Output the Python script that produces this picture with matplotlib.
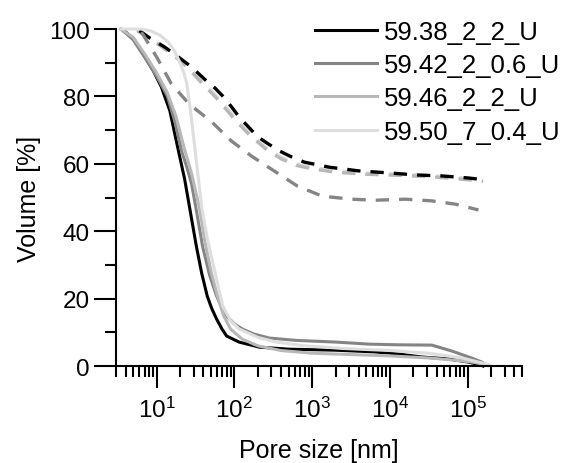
import numpy as np
import matplotlib
matplotlib.use("Agg")
import matplotlib.pyplot as plt
from matplotlib.ticker import LogLocator, NullFormatter, MultipleLocator

plt.rcParams["font.family"] = ["Liberation Sans", "DejaVu Sans"]
plt.rcParams["mathtext.fontset"] = "custom"
plt.rcParams["mathtext.rm"] = "Liberation Sans"
plt.rcParams["mathtext.it"] = "Liberation Sans:italic"

# ===============================
# Data (pore size in nm, volume in %)
# ===============================
samples = ["59.38_2_2_U", "59.42_2_0.6_U", "59.46_2_2_U", "59.50_7_0.4_U"]
colors = ["#000000", "#858585", "#b8b8b8", "#dedede"]

# intrusion curves (solid)
s1_x = [3.47, 3.89, 5.01, 7.08, 9.12, 11.5, 14.8, 18.6, 22.9, 27.5, 32.4, 38.0, 44.7,
        51.3, 58.9, 69.2, 79.4, 115, 209, 501, 2000, 6310, 12600, 25100, 56200,
        100000, 141000, 158000]
s1_y = [100, 99.4, 97, 91.7, 87.5, 82.8, 75.7, 65, 55.5, 45, 35.6, 27.5, 20.8,
        17, 14, 11, 8.9, 7.1, 5.6, 5.0, 4.7, 4.2, 3.6, 2.7, 2.1, 1.2, 0.4, 0]

s2_x = [3.47, 5.01, 7.08, 10.0, 13.8, 17.4, 20.9, 24.5, 28.2, 33.1, 38.9, 47.9,
        58.9, 69.2, 79.4, 100, 126, 178, 282, 631, 2040, 5370, 12600, 34700,
        61700, 112000, 151000, 178000]
s2_y = [100, 96.8, 91.5, 86, 80, 72, 63.8, 59, 54, 45, 35.6, 27, 20.8, 17.2,
        14.8, 12.5, 11, 9.5, 8.3, 7.6, 7.1, 6.5, 6.3, 6.2, 4.5, 2.4, 1.2, 0.3]

s3_x = [3.47, 5.01, 7.08, 10.0, 13.8, 17.8, 22.4, 28.2, 35.5, 41.7, 50.1, 60.3,
        72.4, 89.1, 126, 200, 398, 1000, 3160, 10000, 31600, 79400, 126000, 178000]
s3_y = [100, 97.5, 92.5, 87, 81, 74, 65, 57, 47, 37, 28, 21, 15, 11, 8, 6,
        4.6, 3.8, 3.4, 3.0, 2.4, 1.6, 1.0, 0.3]

s4_x = [3.47, 6.5, 8.5, 11.0, 14.0, 17.0, 20.0, 22.4, 24.5, 28.2, 33.9, 38.0,
        44.7, 52.5, 70.8, 89.1, 115, 200, 347, 794, 2510, 10000, 31600, 79400,
        126000, 186000]
s4_y = [100, 100, 99.4, 98.2, 96.2, 93.5, 90, 87, 83.7, 73, 57, 47, 38, 30.9,
        17.8, 13.5, 11, 8.5, 7.1, 6, 5.2, 4.6, 3.8, 2.5, 1.4, 0.4]

# extrusion curves (dashed)
d1_x = [6.03, 7.94, 12.6, 17.8, 25.1, 33.1, 43.7, 56.2, 70.8, 91.2, 115, 151, 195,
        269, 380, 550, 794, 1660, 3980, 9770, 21400, 46800, 102000, 174000]
d1_y = [99.5, 97.5, 94.7, 92.2, 89.6, 87.2, 84.6, 82.5, 80.1, 77, 73.9, 71, 68.2,
        66, 63.8, 62, 60.5, 59, 57.9, 57.3, 56.7, 56.4, 55.8, 55.2]

d2_x = [6.31, 6.61, 10.0, 15.5, 26.3, 51.3, 91.2, 166, 324, 646, 1350, 3240,
        6610, 15800, 34700, 70800, 138000]
d2_y = [99, 98.5, 91.7, 83.7, 77.7, 72.4, 66.8, 62.3, 57.9, 53.4, 50.4, 49.5,
        49.2, 49.5, 49, 48, 46.3]

d3_x = [5.62, 7.59, 11.2, 17.0, 25.1, 38.0, 56.2, 79.4, 112, 158, 251, 398, 631,
        1000, 2000, 5010, 12600, 31600, 79400, 158000]
d3_y = [99.5, 97.6, 95, 92, 88.5, 84, 80, 76, 72, 68.5, 64.5, 61.5, 59.5, 58.5,
        57.5, 56.9, 56.6, 56.2, 55.5, 54.8]

d4_x = d3_x
d4_y = [99.6, 97.8, 95.3, 92.4, 89, 84.6, 80.6, 76.6, 72.6, 69, 65, 62, 60,
        59, 58, 57.3, 57, 56.6, 55.9, 55.2]

solid = [(s1_x, s1_y), (s2_x, s2_y), (s3_x, s3_y), (s4_x, s4_y)]
dashed = [(d1_x, d1_y), (d2_x, d2_y), (d3_x, d3_y), (d4_x, d4_y)]

# ===============================
# Plot
# ===============================
fig = plt.figure(figsize=(5.75, 4.64), dpi=100)
ax = fig.add_axes([0.2017, 0.209, 0.7061, 0.7263])

# dashed first, solid on top in legend order
for i in [3, 2, 0, 1]:
    x, y = dashed[i]
    ax.plot(x, y, color=colors[i], lw=2.4, dashes=(4, 3), clip_on=False)
for i, (x, y) in enumerate(solid):
    ax.plot(x, y, color=colors[i], lw=2.2, label=samples[i], clip_on=False)

ax.set_xscale("log")
ax.set_xlim(3, 5e5)
ax.set_ylim(0, 100)

ax.xaxis.set_major_locator(LogLocator(base=10, subs=(1.0,), numticks=20))
ax.xaxis.set_minor_locator(LogLocator(base=10, subs=np.arange(2, 10), numticks=20))
ax.xaxis.set_minor_formatter(NullFormatter())
ax.yaxis.set_major_locator(MultipleLocator(20))
ax.yaxis.set_minor_locator(MultipleLocator(10))

for side in ["top", "right"]:
    ax.spines[side].set_visible(False)
for side in ["left", "bottom"]:
    ax.spines[side].set_linewidth(1.5)

ax.tick_params(which="major", length=16, width=1.5, labelsize=17.5, pad=3)
ax.tick_params(which="minor", length=8, width=1.5)
ax.tick_params(axis="x", which="major", pad=6)

ax.set_xlabel("Pore size [nm]", fontsize=18, labelpad=12)
ax.set_ylabel("Volume [%]", fontsize=18, labelpad=6)

ax.legend(loc="upper left", bbox_to_anchor=(0.49, 1.027), frameon=False,
          fontsize=18.5, handlelength=2.4, handletextpad=0.3,
          labelspacing=0.36, borderaxespad=0, borderpad=0)

fig.savefig("out.png", dpi=100)
